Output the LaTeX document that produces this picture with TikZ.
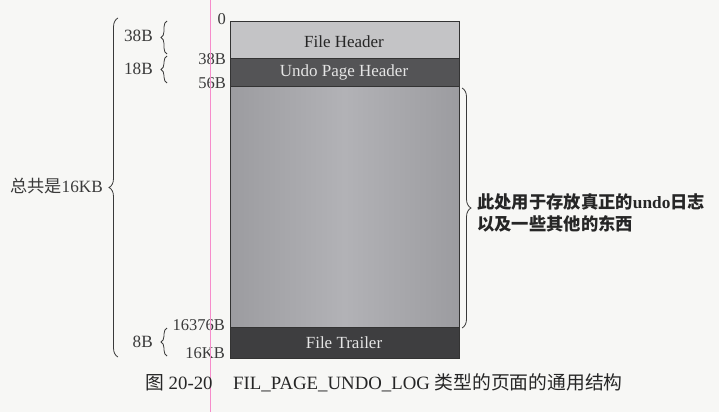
\documentclass[tikz,border=0pt]{standalone}
\usepackage{fontspec}
\setmainfont{Liberation Serif}
\newfontfamily\cjk{Noto Sans CJK SC}
\usetikzlibrary{decorations.pathreplacing}
\definecolor{paper}{HTML}{F7F7F5}
\definecolor{lightpart}{HTML}{C4C4C6}
\definecolor{darkpart}{HTML}{545456}
\definecolor{trailerpart}{HTML}{3E3E40}
\definecolor{bodyedge}{HTML}{9C9CA0}
\definecolor{bodymid}{HTML}{B2B2B6}
\definecolor{inkgray}{HTML}{3A3A3A}
\begin{document}
\begin{tikzpicture}[x=1pt,y={(0,-1pt)},
  part/.style={draw=black!80, line width=1pt, inner sep=0pt},
  onlight/.style={font=\fontsize{17}{19}\selectfont, text=black!85},
  ondark/.style={font=\fontsize{17}{19}\selectfont, text=white!90!black},
  offset/.style={font=\fontsize{16.5}{18}\selectfont, text=inkgray, anchor=east, inner sep=0pt},
  size/.style={font=\fontsize{17.2}{18}\selectfont, text=inkgray, anchor=east, inner sep=0pt},
  curly/.style={decorate, decoration={brace, amplitude=#1}, draw=inkgray, line width=0.8pt},
  curly/.default=5pt]
\fill[paper] (0,0) rectangle (719,412);
\useasboundingbox (0,0) rectangle (719,412);

% page layout, top to bottom
\path[part, fill=lightpart] (230,22) rectangle (459,58);
\path[left color=bodyedge, right color=bodyedge, middle color=bodymid] (230,86) rectangle (459,327);
\draw[part] (230,86) rectangle (459,327);
\path[part, fill=darkpart] (230,58) rectangle (459,86);
\path[part, fill=trailerpart] (230,327) rectangle (459,358);

\node[onlight] (fh) at (344,42) {File Header};
\node[ondark] (uph) at (344,72) {Undo Page Header};
\node[ondark] (ft) at (344,343) {File Trailer};

% byte offsets
\node[offset] (o0) at (226,19) {0};
\node[offset] (o38) at (226,59) {38B};
\node[offset] (o56) at (226,83) {56B};
\node[offset] (o16376) at (225,325) {16376B};
\node[offset] (o16k) at (225,353) {16KB};

% sizes of the parts
\coordinate (b1t) at (167,21);
\coordinate (b1b) at (167,54);
\coordinate (b2t) at (167,56);
\coordinate (b2b) at (167,83);
\coordinate (b3t) at (167,328);
\coordinate (b3b) at (167,356);
\draw[curly=6pt] (b1b) -- (b1t);
\draw[curly=6pt] (b2b) -- (b2t);
\draw[curly=6pt] (b3b) -- (b3t);
\node[size] (s38) at (153,36) {38B};
\node[size] (s18) at (153,69) {18B};
\node[size] (s8) at (153,342) {8B};

% whole page
\coordinate (allt) at (118,18);
\coordinate (allb) at (118,357);
\draw[curly=9pt] (allb) -- (allt);
\node[size, anchor=east] (total) at (103,186) {{\cjk 总共是}16KB};

% log area
\coordinate (lt) at (462,88);
\coordinate (lb) at (462,328);
\draw[curly=9pt] (lt) -- (lb);
\node[anchor=west, align=left, inner sep=0pt, text=black!85,
      font=\fontsize{17.3}{22}\selectfont\bfseries] (logtext) at (477,213)
  {{\cjk 此处用于存放真正的}undo{\cjk 日志}\\{\cjk 以及一些其他的东西}};

% margin line of the page
\draw[magenta!45, line width=0.9pt] (210,0) -- (210,412);

% caption
\node[anchor=west, inner sep=0pt, text=black!85, font=\fontsize{18.8}{20}\selectfont] (caption) at (145,383)
  {{\cjk 图} 20-20\hspace{1.1em}FIL\_PAGE\_UNDO\_LOG {\cjk 类型的页面的通用结构}};
\end{tikzpicture}
\end{document}
